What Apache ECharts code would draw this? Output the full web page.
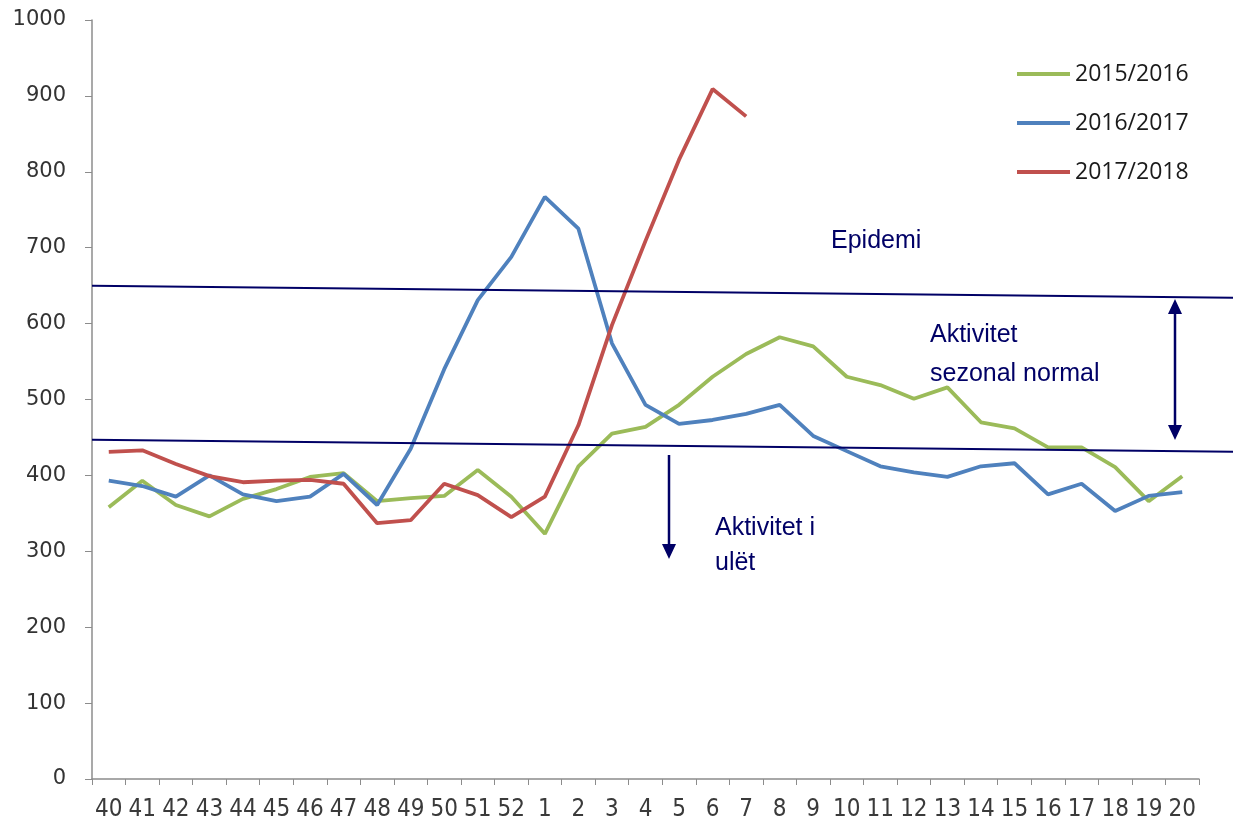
<!DOCTYPE html>
<html>
<head>
<meta charset="utf-8">
<script src="https://cdn.jsdelivr.net/npm/echarts@6/dist/echarts.min.js"></script>
<style>
  html, body { margin: 0; padding: 0; background: #fff; }
  #chart { width: 1235px; height: 829px; }
</style>
</head>
<body>
<div id="chart"></div>
<script>
// javët 40..52 dhe 1..20
const weeks = ['40', '41', '42', '43', '44', '45', '46', '47', '48', '49', '50', '51', '52',
  '1', '2', '3', '4', '5', '6', '7', '8', '9', '10', '11', '12', '13', '14', '15', '16', '17', '18', '19', '20']

const season1516 = [358, 393, 361, 346, 369, 382, 398, 403, 366, 370, 373, 407, 372,
  323, 412, 455, 464, 493, 530, 560, 582, 570, 530, 519, 501, 516, 470, 462, 437, 437, 411, 366, 399]
const season1617 = [393, 386, 372, 400, 375, 366, 372, 402, 361, 435, 540, 631, 688,
  767, 725, 574, 493, 468, 473, 481, 493, 452, 432, 412, 404, 398, 412, 416, 375, 389, 353, 373, 378]
const season1718 = [431, 433, 415, 399, 391, 393, 394, 389, 337, 341, 389, 374, 345,
  372, 466, 598, 709, 816, 909, 873]

const seriesNames = ['2015/2016', '2016/2017', '2017/2018']

// pragjet: vlera në fillim (majtas) dhe në fund (djathtas)
const epidemicLine = [650, 634]
const seasonalLine = [447, 431]

const color = ['#9BBB59', '#4F81BD', '#C0504D']
const navy = '#000066'
const GRID_LEFT = 92
const LINE_END_X = 1233

const chart = echarts.init(document.getElementById('chart'))

const lineSeries = (name, data, i) => ({
  name: name,
  type: 'line',
  data: data,
  symbol: 'none',
  smooth: false,
  lineStyle: { color: color[i], width: 3.8 },
  itemStyle: { color: color[i] },
  z: 3
})

chart.setOption({
  animation: false,
  color: color,
  grid: { left: GRID_LEFT, right: 36, top: 20, bottom: 50 },
  legend: {
    orient: 'vertical',
    left: 1012,
    top: 54,
    icon: 'rect',
    itemWidth: 53,
    itemHeight: 4,
    itemGap: 19,
    textStyle: { fontFamily: 'Open Sans', fontSize: 23, color: '#1a1a1a', lineHeight: 30 },
    data: seriesNames
  },
  xAxis: {
    type: 'category',
    data: weeks,
    boundaryGap: true,
    axisLine: { lineStyle: { color: '#8c8c8c', width: 1.5 } },
    axisTick: { show: true, length: 6, lineStyle: { color: '#8c8c8c' } },
    axisLabel: {
      interval: 0,
      margin: 19,
      fontFamily: '"Liberation Sans Narrow", "DejaVu Sans Condensed", "Liberation Sans", sans-serif',
      fontSize: 24,
      color: '#3a3a3a'
    },
    splitLine: { show: false }
  },
  yAxis: {
    type: 'value',
    min: 0,
    max: 1000,
    interval: 100,
    axisLine: { show: true, lineStyle: { color: '#8c8c8c', width: 1.5 } },
    axisTick: { show: true, length: 7, lineStyle: { color: '#8c8c8c' } },
    axisLabel: {
      margin: 26,
      fontFamily: 'DejaVu Sans',
      fontSize: 21,
      color: '#333',
      formatter: v => String(v)
    },
    splitLine: { show: false }
  },
  series: [
    lineSeries(seriesNames[0], season1516, 0),
    lineSeries(seriesNames[1], season1617, 1),
    lineSeries(seriesNames[2], season1718, 2)
  ]
})

// shënimet: pragjet, shigjetat dhe tekstet
const yPix = v => chart.convertToPixel({ yAxisIndex: 0 }, v)
const txt = (x, y, text) => ({
  type: 'text',
  x: x,
  y: y,
  z: 10,
  style: {
    text: text,
    fill: navy,
    font: '25px "Liberation Sans", Arial, sans-serif',
    textVerticalAlign: 'middle'
  }
})
const tri = (pts) => ({
  type: 'polygon',
  z: 10,
  shape: { points: pts },
  style: { fill: navy }
})

chart.setOption({
  graphic: [
    {
      type: 'line',
      z: 5,
      shape: { x1: GRID_LEFT, y1: yPix(epidemicLine[0]), x2: LINE_END_X, y2: yPix(epidemicLine[1]) },
      style: { stroke: navy, lineWidth: 2 }
    },
    {
      type: 'line',
      z: 5,
      shape: { x1: GRID_LEFT, y1: yPix(seasonalLine[0]), x2: LINE_END_X, y2: yPix(seasonalLine[1]) },
      style: { stroke: navy, lineWidth: 2 }
    },
    // shigjeta poshtë
    { type: 'line', z: 10, shape: { x1: 669, y1: 455, x2: 669, y2: 546 }, style: { stroke: navy, lineWidth: 2.5 } },
    tri([[662, 544], [676, 544], [669, 559]]),
    // shigjeta dyshe
    { type: 'line', z: 10, shape: { x1: 1175, y1: 312, x2: 1175, y2: 426 }, style: { stroke: navy, lineWidth: 2.5 } },
    tri([[1168, 314], [1182, 314], [1175, 299]]),
    tri([[1168, 425], [1182, 425], [1175, 440]]),
    txt(831, 241, 'Epidemi'),
    txt(930, 335, 'Aktivitet'),
    txt(930, 374, 'sezonal normal'),
    txt(715, 528, 'Aktivitet i'),
    txt(715, 563, 'ulët')
  ]
})
</script>
</body>
</html>
